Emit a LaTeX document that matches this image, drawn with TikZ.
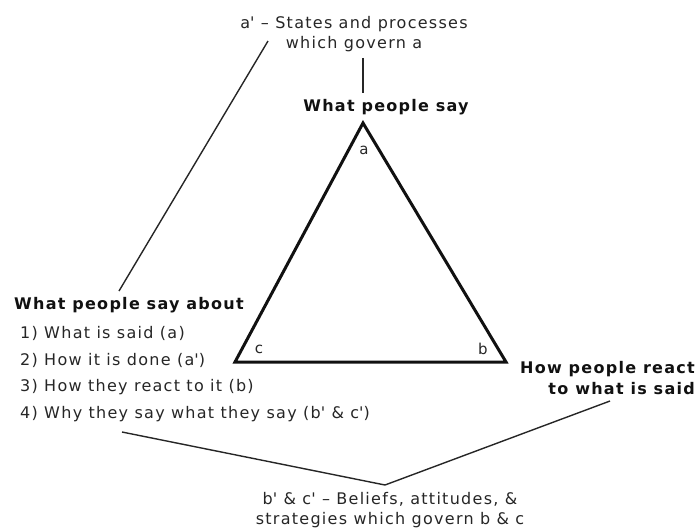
\documentclass[tikz,border=0pt]{standalone}
\usepackage{fontspec}
\setmainfont{DejaVu Sans}[LetterSpace=8]
\usetikzlibrary{positioning}
\definecolor{TriInk}{HTML}{111111}
\definecolor{NoteInk}{HTML}{262626}
\newcommand{\tick}{\textquotesingle}
\tikzset{
headlabel/.style={font=\fontsize{16}{21}\selectfont\bfseries, inner sep=0pt, text=TriInk},
notelabel/.style={font=\fontsize{16}{20}\selectfont, inner sep=0pt, align=center, text=NoteInk},
itemlabel/.style={font=\fontsize{16}{20}\selectfont, inner sep=0pt, anchor=west, text=NoteInk},
cornerlabel/.style={font=\fontsize{15}{18}\selectfont, inner sep=0pt, text=NoteInk},
triline/.style={line width=3pt, draw=TriInk, line join=miter},
noteline/.style={line width=1.4pt, draw=NoteInk}
}

\begin{document}
\begin{tikzpicture}[x=1pt, y=-1pt]
\useasboundingbox (0,0) rectangle (698,531);

% triangle corners
\coordinate (apex) at (363,123);
\coordinate (cornerb) at (506,362);
\coordinate (cornerc) at (235,362);
\draw[triline] (apex) -- (cornerb) -- (cornerc) -- cycle;

\node[cornerlabel] (la) at (364,150) {a};
\node[cornerlabel] (lb) at (483,349) {b};
\node[cornerlabel] (lc) at (259,349) {c};

% labels
\node[headlabel] (say) at (386,107) {What people say};
\node[notelabel] (topnote) at (354,34) {a\tick{} -- States and processes\\which govern a};
\node[headlabel, anchor=west] (about) at (14,305) {What people say about};
\node[itemlabel] (item1) at (20,333) {1) What is said (a)};
\node[itemlabel] (item2) at (20,360) {2) How it is done (a\tick)};
\node[itemlabel] (item3) at (20,387) {3) How they react to it (b)};
\node[itemlabel] (item4) at (20,414) {4) Why they say what they say (b\tick{} \& c\tick)};
\node[headlabel, align=right, anchor=east] (react) at (695,378) {How people react\\to what is said};
\node[notelabel] (botnote) at (390,510) {b\tick{} \& c\tick{} -- Beliefs, attitudes, \&\\strategies which govern b \& c};

% connectors
\coordinate (topleft) at (268,41);
\coordinate (aboutend) at (119,291);
\coordinate (vleft) at (122,432);
\coordinate (vtip) at (385,485);
\coordinate (vright) at (610,401);
\draw[noteline] ([yshift=-6pt]topnote.south -| apex) -- ([yshift=6pt]say.north -| apex);
\draw[noteline] (topleft) -- (aboutend);
\draw[noteline] (vleft) -- (vtip) -- (vright);
\end{tikzpicture}
\end{document}
